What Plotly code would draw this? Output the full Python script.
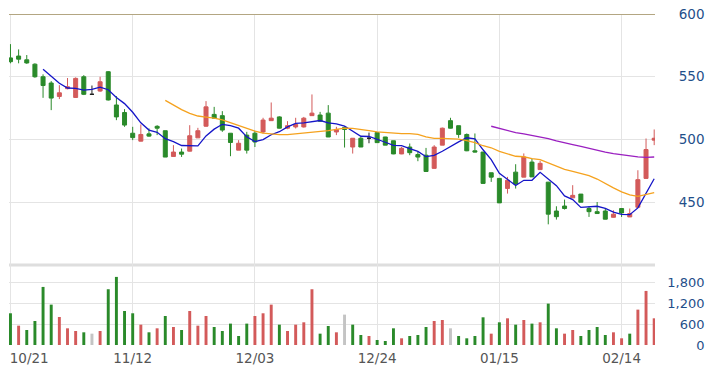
import plotly.graph_objects as go
import pandas as pd

# ---- data ----
tick_index = [0, 15, 30, 45, 60, 75]
tick_labels = ["10/21", "11/12", "12/03", "12/24", "01/15", "02/14"]

opens = [565, 566.5, 563.5, 560, 550, 545, 534.3, 540.5, 533.5, 550,
         536, 538.6, 554, 527.5, 521.5, 505, 498.7, 504.5, 510.5, 507,
         486.5, 490, 490.7, 501.3, 510.6, 520, 519, 505, 491.5, 503.5,
         505, 506, 515, 518, 509, 510, 510, 519, 519.5, 521,
         506, 509.5, 494, 501, 501, 505.5, 502, 499, 488.5, 494,
         488, 487.5, 477, 495.5, 515, 511, 504, 491, 490, 473.5,
         469, 461, 474, 470, 482, 476, 466, 443, 447, 453.5,
         456.5, 445, 442.5, 443, 438, 445, 438.3, 446, 469, 499.5]
highs = [576, 571.8, 567.3, 560.7, 551.9, 546.5, 543.3, 549, 549.5, 551.3,
         543, 550, 554.5, 534.6, 524.2, 510.1, 512, 508.8, 511.4, 507,
         495.5, 492.8, 511.4, 509.3, 530.6, 526, 522.6, 505, 499.5, 506.1,
         507, 517.3, 529.5, 518.5, 514.6, 517.3, 518, 535.9, 522, 527.4,
         510.1, 510.5, 501, 502.1, 505.5, 506, 502.1, 499, 494.1, 496.8,
         490.1, 493.3, 495.5, 509.5, 517.3, 511, 504.8, 504.8, 490.1, 473.5,
         469, 470.2, 480.3, 488.9, 484.8, 483, 466.2, 446.8, 452.1, 463.6,
         456.5, 446.8, 450.2, 445, 443.6, 445, 445, 475.5, 500.8, 508]
lows = [560.7, 560.7, 560.3, 549.2, 533.2, 523.4, 532.2, 540, 533.2, 535.4,
        535.8, 538, 531.1, 515.4, 510.1, 499.5, 498.5, 502.1, 503.5, 486,
        486.5, 486.1, 490.5, 501.3, 510.1, 516.8, 506.1, 486.7, 491.5, 488.8,
        494, 504.8, 515, 508.8, 508.2, 508.8, 509.5, 519, 514, 502,
        503.5, 493.6, 488.8, 494, 497, 497.5, 495.5, 488.3, 488.3, 487.5,
        482.7, 474.2, 476.9, 495.5, 508.8, 501.3, 490.7, 489.7, 464.9, 466.2,
        449.4, 456.9, 460.9, 470, 470.2, 476, 432.4, 436.2, 444.2, 453.5,
        450, 438.3, 441, 436.4, 437.8, 438.3, 438.3, 445.8, 468.9, 495.5]
closes = [562, 564, 561, 550, 543, 533, 537.2, 542, 548.7, 536,
          536, 546, 531.5, 518, 511.5, 501.5, 504, 502.7, 509, 486,
          490, 488.3, 503, 507, 526, 517, 507.5, 497.6, 497, 491.5,
          498, 515.5, 517, 509, 511, 512, 517, 521, 514.6, 502,
          508, 508, 501, 494, 501, 497.5, 495.5, 488.5, 493, 489.5,
          486, 474.5, 494, 509, 509, 504, 491, 490, 465, 470,
          449.5, 467.5, 464.5, 486, 470.2, 481, 440.5, 438.5, 445, 455.5,
          450, 442.5, 441, 436.5, 440.5, 441.5, 441, 468, 492, 501]
volumes = [920, 561, 436, 697, 1684, 1171, 813, 484, 407, 368,
           329, 407, 1617, 1975, 987, 920, 590, 368, 484, 842,
           523, 436, 987, 561, 842, 523, 407, 620, 261, 620,
           842, 920, 1171, 590, 407, 590, 658, 1617, 329, 552,
           368, 881, 590, 290, 261, 145, 116, 484, 194, 261,
           290, 523, 697, 726, 484, 261, 194, 261, 803, 329,
           658, 774, 590, 726, 620, 658, 1200, 484, 329, 436,
           261, 436, 523, 290, 368, 194, 329, 1026, 1568, 774]

# ---- styles ----
UP = "#d35a5a"
DOWN = "#2a8a2a"
FLAT = "#222222"
VOL_FLAT = "#c4c4c4"
GRID = "#e4e4e4"
LABEL_BLUE = "#1f4f8a"
FONT = "DejaVu Sans"

n = len(closes)
xs = list(range(n))
s = pd.Series(closes, dtype=float)
ma5 = s.rolling(5).mean()
ma20 = s.rolling(20).mean()
ma60 = s.rolling(60).mean()

fig = go.Figure()


def add_candles(mask, color):
    idx = [i for i in xs if mask(i)]
    fig.add_trace(go.Candlestick(
        x=idx,
        open=[opens[i] for i in idx], high=[highs[i] for i in idx],
        low=[lows[i] for i in idx], close=[closes[i] for i in idx],
        increasing=dict(line=dict(color=color, width=1), fillcolor=color),
        decreasing=dict(line=dict(color=color, width=1), fillcolor=color),
        whiskerwidth=0, xaxis="x", yaxis="y", showlegend=False, hoverinfo="skip"))


add_candles(lambda i: closes[i] > opens[i], UP)
add_candles(lambda i: closes[i] < opens[i], DOWN)
add_candles(lambda i: closes[i] == opens[i], FLAT)

for ma, col in [(ma5, "#1515c8"), (ma20, "#f5a21e"), (ma60, "#9a1fc0")]:
    fig.add_trace(go.Scatter(x=xs, y=ma, mode="lines", line=dict(color=col, width=1.3),
                             xaxis="x", yaxis="y", showlegend=False, hoverinfo="skip"))

vol_colors = []
for i in xs:
    ref = closes[i - 1] if i > 0 else opens[i]
    vol_colors.append(UP if closes[i] > ref else (DOWN if closes[i] < ref else VOL_FLAT))

fig.add_trace(go.Bar(x=xs, y=volumes, marker=dict(color=vol_colors, line=dict(width=0)),
                     width=0.36, xaxis="x2", yaxis="y2", showlegend=False, hoverinfo="skip"))
# carrier for the date-label axis
fig.add_trace(go.Scatter(x=[None], y=[None], xaxis="x3", yaxis="y2",
                         showlegend=False, hoverinfo="skip"))

W, H = 716, 373
ml, mr, mt, mb = 9, 0, 14, 28
pw = W - ml - mr
xd = (655 - ml) / pw
split = 80 / (H - mt - mb)
xr = [-0.18, 79.1]
ypos = (704.5 - ml) / pw

# first date label sits flush with the left edge instead of centred on its gridline
label_pos = [tick_index[0] + 2.3] + tick_index[1:]

fig.update_layout(
    width=W, height=H,
    margin=dict(l=ml, r=mr, t=mt, b=mb),
    paper_bgcolor="white", plot_bgcolor="white",
    font=dict(family=FONT),
    xaxis=dict(domain=[0, xd], range=xr, anchor="y", tickmode="array", tickvals=tick_index,
               showticklabels=False, showgrid=True, gridcolor=GRID, gridwidth=1,
               zeroline=False, showline=False, ticks="", rangeslider=dict(visible=False),
               automargin=False),
    xaxis2=dict(domain=[0, xd], range=xr, anchor="y2", tickmode="array", tickvals=tick_index,
                showticklabels=False, showgrid=True, gridcolor=GRID, gridwidth=1,
                zeroline=False, showline=False, ticks="", automargin=False),
    xaxis3=dict(domain=[0, xd], range=xr, anchor="y2", overlaying="x2", tickmode="array",
                tickvals=label_pos, ticktext=tick_labels, showgrid=False, zeroline=False,
                showline=False, ticks="", side="bottom", ticklabelstandoff=3,
                tickfont=dict(family=FONT, size=13.5, color="#555555"), automargin=False),
    yaxis=dict(domain=[split, 1], range=[400, 600], anchor="free", position=ypos,
               side="left", tickmode="array", tickvals=[450, 500, 550, 600],
               showgrid=True, gridcolor=GRID, gridwidth=1, zeroline=False, ticks="",
               tickfont=dict(family=FONT, size=13.5, color=LABEL_BLUE), automargin=False),
    yaxis2=dict(domain=[0, split], range=[0, 2320], anchor="free", position=ypos,
                side="left", tickmode="array", tickvals=[0, 600, 1200, 1800], tickformat=",",
                showgrid=True, gridcolor=GRID, gridwidth=1, zeroline=False, ticks="",
                tickfont=dict(family=FONT, size=13, color=LABEL_BLUE), automargin=False),
    shapes=[
        dict(type="line", xref="x domain", yref="y", x0=0, x1=1, y0=600, y1=600,
             line=dict(color="#b3a682", width=2), layer="above"),
        dict(type="line", xref="x domain", yref="paper", x0=0, x1=1, y0=split, y1=split,
             line=dict(color="#dedede", width=3), layer="below"),
    ],
)

fig.write_html("out.html", config={"displayModeBar": False},
               post_script="document.body.style.margin='0px';document.body.style.padding='0px';")
